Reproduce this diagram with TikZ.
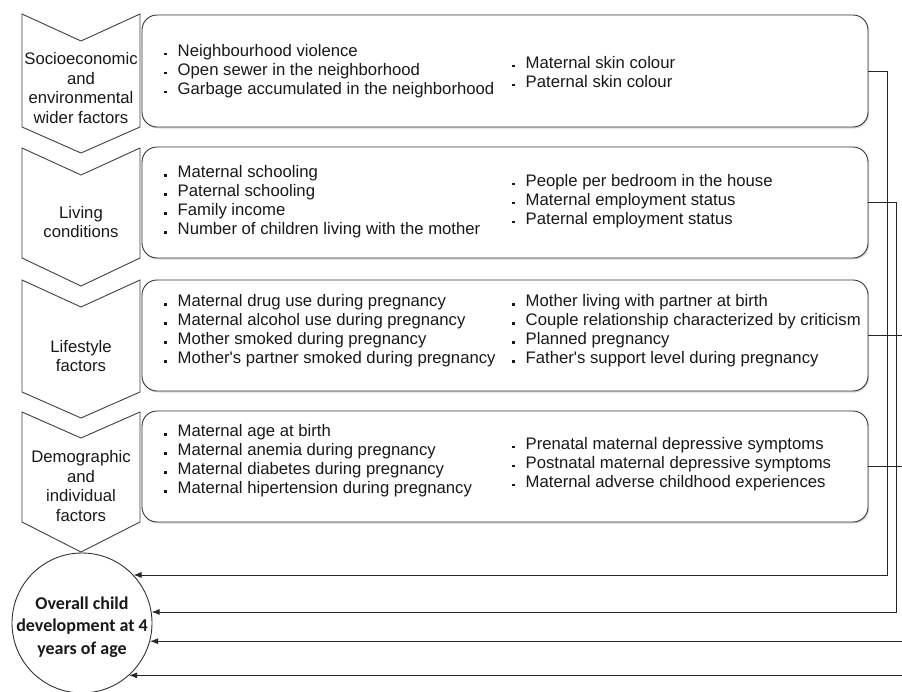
\documentclass[tikz,border=0pt]{standalone}
\usepackage{fontspec}
\setmainfont{Liberation Sans}
\newfontfamily\circfont{Carlito}
\usetikzlibrary{arrows.meta,shadows}
\newcommand\bul{\makebox[13.5pt][l]{\raisebox{1.2pt}{\rule{2.6pt}{2.6pt}}}}
\begin{document}
\begin{tikzpicture}[x=1pt,y=-1pt,
  chev/.style={draw=black!75,line width=0.9pt,fill=white,line join=miter},
  fbox/.style={draw=black!80,line width=0.9pt,rounded corners=15pt,minimum width=726pt,inner sep=0pt,fill=white,drop shadow={shadow xshift=1.2pt,shadow yshift=-1.5pt,opacity=0.3}},
  itemtxt/.style={anchor=west,align=left,inner sep=0pt,text=black!90,font=\fontsize{16.7}{19}\selectfont},
  lbl/.style={align=center,inner sep=0pt,text=black!90,font=\fontsize{16.7}{19.6}\selectfont},
  conn/.style={draw=black!85,line width=0.9pt},
  arr/.style={conn,-{Latex[length=8pt,width=6pt]}}]
\useasboundingbox (0,0) rectangle (902,691);

% chevrons
\draw[chev] (22,14) -- (81,41) -- (140,14) -- (140,127) -- (81,153) -- (22,127) -- cycle;
\draw[chev] (22,148) -- (81,175) -- (140,148) -- (140,258) -- (81,286) -- (22,258) -- cycle;
\draw[chev] (22,280) -- (81,307) -- (140,280) -- (140,392) -- (81,418) -- (22,392) -- cycle;
\draw[chev] (22,412) -- (81,438) -- (140,412) -- (140,522) -- (81,552) -- (22,522) -- cycle;

\node[lbl] (l1) at (81,88) {Socioeconomic\\and\\environmental\\wider factors};
\node[lbl] (l2) at (81,222) {Living\\conditions};
\node[lbl] (l3) at (81,356) {Lifestyle\\factors};
\node[lbl] (l4) at (81,486) {Demographic\\and\\individual\\factors};

% boxes
\node[fbox,minimum height=112pt] (b1) at (505,71) {};
\node[fbox,minimum height=111pt] (b2) at (505,202.5) {};
\node[fbox,minimum height=111pt] (b3) at (505,335.5) {};
\node[fbox,minimum height=111pt] (b4) at (505,466.5) {};

\node[itemtxt] (b1l) at (164,71) {\bul Neighbourhood violence\\\bul Open sewer in the neighborhood\\\bul Garbage accumulated in the neighborhood};
\node[itemtxt] (b1r) at (512,72) {\bul Maternal skin colour\\\bul Paternal skin colour};

\node[itemtxt] (b2l) at (164,202) {\bul Maternal schooling\\\bul Paternal schooling\\\bul Family income\\\bul Number of children living with the mother};
\node[itemtxt] (b2r) at (512,201) {\bul People per bedroom in the house\\\bul Maternal employment status\\\bul Paternal employment status};

\node[itemtxt] (b3l) at (164,331) {\bul Maternal drug use during pregnancy\\\bul Maternal alcohol use during pregnancy\\\bul Mother smoked during pregnancy\\\bul Mother\textquotesingle s partner smoked during pregnancy};
\node[itemtxt] (b3r) at (512,331) {\bul Mother living with partner at birth\\\bul Couple relationship characterized by criticism\\\bul Planned pregnancy\\\bul Father\textquotesingle s support level during pregnancy};

\node[itemtxt] (b4l) at (164,461) {\bul Maternal age at birth\\\bul Maternal anemia during pregnancy\\\bul Maternal diabetes during pregnancy\\\bul Maternal hipertension during pregnancy};
\node[itemtxt] (b4r) at (512,464) {\bul Prenatal maternal depressive symptoms\\\bul Postnatal maternal depressive symptoms\\\bul Maternal adverse childhood experiences};

% outcome circle
\node[circle,draw=black!80,line width=0.9pt,fill=white,minimum size=140pt,inner sep=0pt] (circ) at (82,623) {};
\node[align=center,inner sep=0pt,text=black!90,font=\circfont\bfseries\fontsize{18}{22.5}\selectfont] (ctext) at (82,627) {Overall child\\development at 4\\years of age};

% connectors
\coordinate (r1) at (887,0);
\coordinate (r2) at (896,0);
\coordinate (edge) at (902,0);
\draw[arr] (b1.east) -- (b1.east -| r1) -- (r1 |- circ.43) -- (circ.43);
\draw[arr] (b2.east) -- (b2.east -| r2) -- (r2 |- circ.9) -- (circ.9);
\draw[conn] (b3.east) -- (b3.east -| edge);
\draw[conn] (b4.east) -- (b4.east -| edge);
\draw[arr] (circ.-15 -| edge) -- (circ.-15);
\draw[arr] (circ.-48 -| edge) -- (circ.-48);
\end{tikzpicture}
\end{document}
